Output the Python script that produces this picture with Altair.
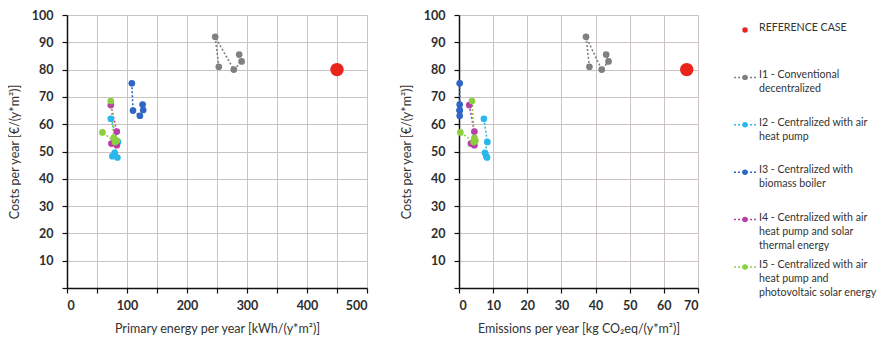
import altair as alt
import pandas as pd

# ---------------- data ----------------
series_names = ["I1", "I2", "I3", "I4", "I5"]
series_colors = ["#808080", "#29b8ec", "#2f66c4", "#b63fa8", "#8ccf3e"]
ref_color = "#e8241c"

i1_cost = [81, 92, 80, 83, 85.5]
i1_pe = [253, 247, 278, 291, 287]
i1_em = [38.2, 37.2, 41.8, 43.8, 43.1]

i2_cost = [62, 53.5, 49.5, 48.3, 47.8]
i2_pe = [73, 85, 79.5, 75.6, 84]
i2_em = [7.3, 8.3, 7.6, 8.0, 8.2]

i3_cost = [75, 65, 63.1, 65.2, 67.2]
i3_pe = [108, 110, 121.5, 127, 126]
i3_em = [0.2, 0.2, 0.2, 0.2, 0.2]

i4_cost = [67, 57.3, 52.9, 52.3]
i4_pe = [73, 83, 74, 83]
i4_em = [3.0, 4.5, 3.5, 4.5]

i5_cost = [68.5, 55, 54, 53.5, 57]
i5_pe = [73, 78, 83, 80, 59]
i5_em = [3.8, 4.5, 4.8, 4.3, 0.4]

ref_cost = [80]
ref_pe = [450]
ref_em = [66.7]

legend_keys = ["REF", "I1", "I2", "I3", "I4", "I5"]
legend_labels = [
    "REFERENCE CASE",
    "I1 - Conventional\ndecentralized",
    "I2 - Centralized with air\nheat pump",
    "I3 - Centralized with\nbiomass boiler",
    "I4 - Centralized with air\nheat pump and solar\nthermal energy",
    "I5 - Centralized with air\nheat pump and\nphotovoltaic solar energy",
]

y_ticks = [0, 10, 20, 30, 40, 50, 60, 70, 80, 90, 100]
pe_ticks = [0, 50, 100, 150, 200, 250, 300, 350, 400, 450, 500]
em_ticks = [0, 10, 20, 30, 40, 50, 60, 70]

# ---------------- tables ----------------
rows = []
for name, c, p, e in [
    ("I1", i1_cost, i1_pe, i1_em),
    ("I2", i2_cost, i2_pe, i2_em),
    ("I3", i3_cost, i3_pe, i3_em),
    ("I4", i4_cost, i4_pe, i4_em),
    ("I5", i5_cost, i5_pe, i5_em),
]:
    for k in range(len(c)):
        rows.append({"series": name, "idx": k, "cost": c[k], "pe": p[k], "em": e[k]})
df = pd.DataFrame(rows)
ref_df = pd.DataFrame({"series": ["REF"], "cost": ref_cost, "pe": ref_pe, "em": ref_em})

color_scale = alt.Scale(domain=series_names + ["REF"], range=series_colors + [ref_color])

FONT = "Lato"
LABEL_COLOR = "#333333"


def panel(field, domain, ticks, title, width):
    x = alt.X(
        f"{field}:Q",
        scale=alt.Scale(domain=domain, nice=False),
        axis=alt.Axis(values=ticks, title=title, labelPadding=6, titlePadding=11),
    )
    y = alt.Y(
        "cost:Q",
        scale=alt.Scale(domain=[0, 100], nice=False),
        axis=alt.Axis(
            values=y_ticks,
            labelExpr="datum.value == 0 ? '' : datum.label",
            title="Costs per year [€/(y*m²)]",
            labelPadding=9,
            titlePadding=10,
        ),
    )
    col = alt.Color("series:N", scale=color_scale, legend=None)
    lines = alt.Chart(df).mark_line(strokeDash=[2, 2], strokeWidth=1.6).encode(
        x=x, y=y, color=col, order="idx:Q"
    )
    pts = alt.Chart(df).mark_circle(size=45, opacity=1).encode(x=x, y=y, color=col)
    ref = alt.Chart(ref_df).mark_circle(size=180, opacity=1).encode(x=x, y=y, color=col)
    return alt.layer(lines, pts, ref).properties(width=width, height=273)


left = panel("pe", [0, 500], pe_ticks, "Primary energy per year [kWh/(y*m²)]", 300)
right = panel("em", [0, 70], em_ticks, "Emissions per year [kg CO₂eq/(y*m²)]", 239)

# legend drawn as a small panel: entries ranked top to bottom
leg_df = pd.DataFrame({
    "series": legend_keys,
    "label": legend_labels,
    "rank": list(range(len(legend_keys))),
})
ly = alt.Y("rank:Q", scale=alt.Scale(domain=[-0.316, 5.443], reverse=True, nice=False, zero=False), axis=None)
lcol = alt.Color("series:N", scale=color_scale, legend=None)
leg_rule = alt.Chart(leg_df).transform_filter("datum.series != 'REF'").mark_rule(
    strokeDash=[2, 2], strokeWidth=1.5
).encode(x=alt.value(0), x2=alt.value(22), y=ly, color=lcol)
leg_pt = alt.Chart(leg_df).mark_circle(size=30, opacity=1).encode(x=alt.value(11), y=ly, color=lcol)
leg_txt = alt.Chart(leg_df).mark_text(
    align="left", baseline="top", dy=-7, fontSize=10.6, lineBreak="\n", font=FONT,
    color=LABEL_COLOR, lineHeight=14
).encode(x=alt.value(25), y=ly, text="label:N")
legend = alt.layer(leg_rule, leg_pt, leg_txt).properties(width=130, height=273)

chart = (
    alt.hconcat(alt.hconcat(left, right, spacing=32), legend, spacing=34)
    .properties(padding={"left": 0, "top": 1, "right": 0, "bottom": 0})
    .configure_view(stroke=None)
    .configure_axis(
        labelFont=FONT,
        titleFont=FONT,
        labelFontSize=12.5,
        titleFontSize=12.5,
        labelColor="#2e2e2e",
        titleColor=LABEL_COLOR,
        titleFontWeight="normal",
        labelFontWeight="bold",
        gridColor="#cbc2c2",
        gridWidth=1,
        domainColor="#111111",
        domainWidth=1.5,
        tickColor="#111111",
        tickSize=5,
        tickWidth=1.2,
    )
)

chart.save("out.html", embed_options={"renderer": "svg", "actions": False})
